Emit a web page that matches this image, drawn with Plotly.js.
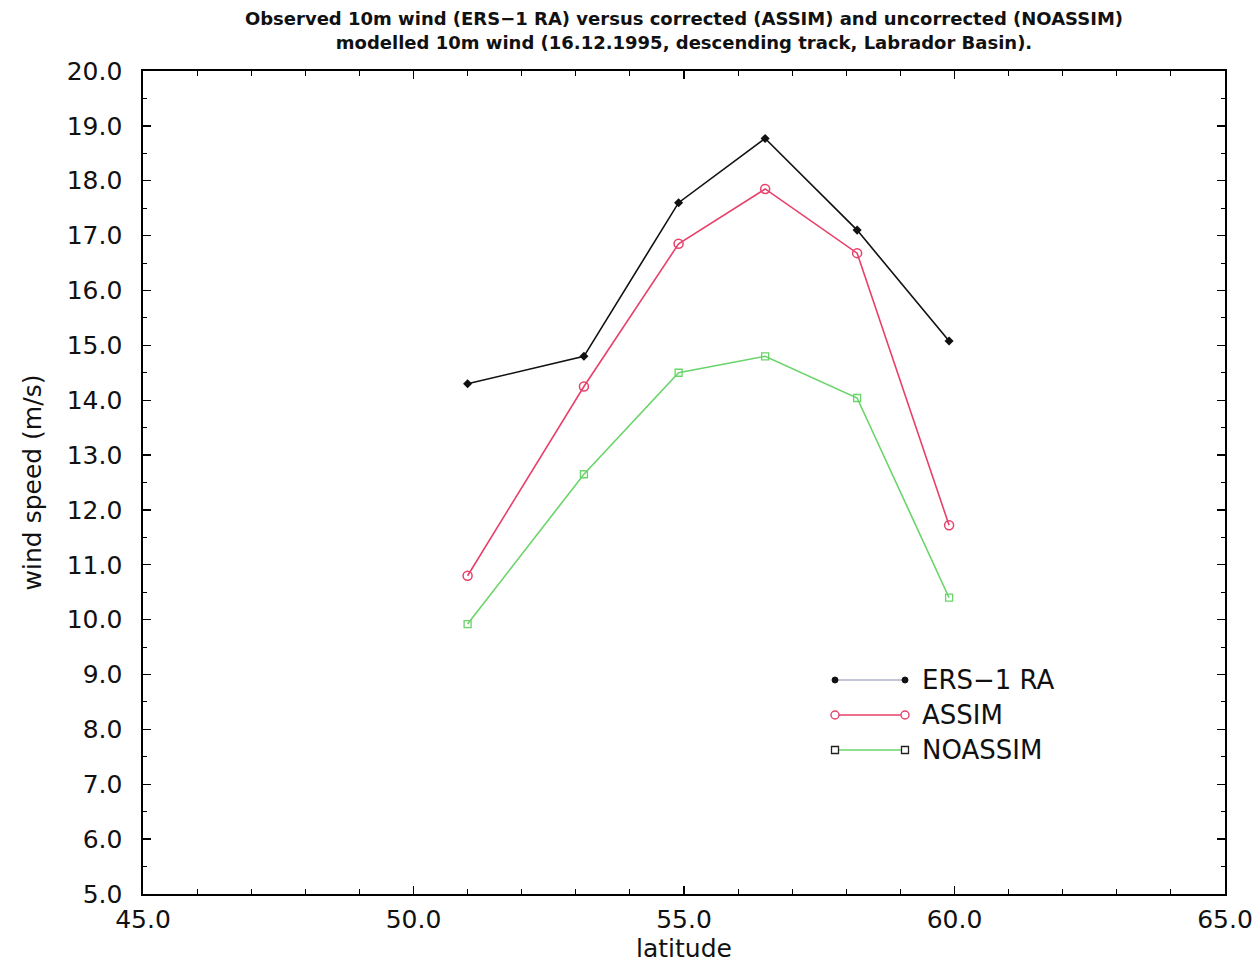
<!DOCTYPE html>
<html><head><meta charset="utf-8">
<script src="https://cdn.plot.ly/plotly-3.0.1.min.js"></script>
<style>html,body{margin:0;padding:0;background:#fff;}</style>
</head><body>
<div id="chart" style="width:1259px;height:971px;"></div>
<script>
// ---- data ----
const latitude = [51.0, 53.15, 54.9, 56.5, 58.2, 59.9];
const ersRA   = [14.3, 14.8, 17.6, 18.77, 17.1, 15.08];
const assim   = [10.8, 14.25, 16.85, 17.85, 16.68, 11.72];
const noassim = [9.92, 12.65, 14.5, 14.8, 14.04, 10.4];
const seriesNames = ['ERS\u22121 RA', 'ASSIM', 'NOASSIM'];
const titleLines = ['Observed 10m wind (ERS\u22121 RA) versus corrected (ASSIM) and uncorrected (NOASSIM)',
                    'modelled 10m wind (16.12.1995, descending track, Labrador Basin).'];
const xTitle = 'latitude';
const yTitle = 'wind speed (m/s)';

// ---- styling ----
const FONT = 'DejaVu Sans, Liberation Sans, Arial, sans-serif';
const colors = {ers: '#111111', assim: '#e8406a', noassim: '#6ad46a'};
const W = 1259, H = 971;
const M = {l: 143, r: 34, t: 71, b: 77};
const PW = W - M.l - M.r, PH = H - M.t - M.b;
const px = x => (x - M.l) / PW;
const py = y => (H - M.b - y) / PH;

const traces = [
  {x: latitude, y: ersRA, name: seriesNames[0], mode: 'lines+markers', type: 'scatter',
   line: {color: colors.ers, width: 1.6},
   marker: {symbol: 'diamond', size: 7, color: colors.ers}},
  {x: latitude, y: assim, name: seriesNames[1], mode: 'lines+markers', type: 'scatter',
   line: {color: colors.assim, width: 1.6},
   marker: {symbol: 'circle-open', size: 9, color: colors.assim, line: {width: 1.5, color: colors.assim}}},
  {x: latitude, y: noassim, name: seriesNames[2], mode: 'lines+markers', type: 'scatter',
   line: {color: colors.noassim, width: 1.6},
   marker: {symbol: 'square-open', size: 7, color: colors.noassim, line: {width: 1.3, color: colors.noassim}}}
];

// custom legend (line with markers at both ends, as in the reference)
const legRows = [680, 715, 750];
const legX0 = 835, legX1 = 905, legText = 920;
const legLine = ['#aeb2c8', colors.assim, colors.noassim];
const shapes = [], annotations = [];
legRows.forEach((ry, i) => {
  shapes.push({type: 'line', xref: 'paper', yref: 'paper', x0: px(legX0), x1: px(legX1), y0: py(ry), y1: py(ry),
               line: {color: legLine[i], width: 1.6}});
  [legX0, legX1].forEach(ex => {
    const base = {xref: 'paper', yref: 'paper', xsizemode: 'pixel', ysizemode: 'pixel',
                  xanchor: px(ex), yanchor: py(ry)};
    if (i === 0) shapes.push(Object.assign({type: 'circle', x0: -3, x1: 3, y0: -3, y1: 3,
                  fillcolor: '#111', line: {color: '#111', width: 1}}, base));
    if (i === 1) shapes.push(Object.assign({type: 'circle', x0: -4, x1: 4, y0: -4, y1: 4,
                  fillcolor: '#fff', line: {color: colors.assim, width: 1.4}}, base));
    if (i === 2) shapes.push(Object.assign({type: 'rect', x0: -3.5, x1: 3.5, y0: -3.5, y1: 3.5,
                  fillcolor: '#fff', line: {color: '#222', width: 1.3}}, base));
  });
  annotations.push({xref: 'paper', yref: 'paper', x: px(legText), y: py(ry), xanchor: 'left', yanchor: 'middle',
                    text: seriesNames[i], showarrow: false, font: {family: FONT, size: 26, color: '#111'}});
});

const layout = {
  width: W, height: H,
  margin: M,
  paper_bgcolor: '#fff', plot_bgcolor: '#fff',
  showlegend: false,
  font: {family: FONT, color: '#111'},
  title: {text: titleLines.join('<br>'), x: 0.5, xref: 'paper', xanchor: 'center',
          y: 0.974, yref: 'container', yanchor: 'top',
          font: {family: FONT, size: 18, weight: 'bold', color: '#111'}},
  xaxis: {range: [45, 65], dtick: 5, tick0: 45, tickformat: '.1f',
          ticks: 'inside', ticklen: 8, tickwidth: 1.3, tickcolor: '#000',
          minor: {dtick: 1, ticks: 'inside', ticklen: 5, tickwidth: 1, tickcolor: '#000'},
          showline: true, linecolor: '#000', linewidth: 1.6, mirror: 'allticks',
          showgrid: false, zeroline: false,
          tickfont: {family: FONT, size: 25, color: '#111'}, ticklabelstandoff: 2,
          title: {text: xTitle, font: {family: FONT, size: 25, color: '#111'}, standoff: 4}},
  yaxis: {range: [5, 20], dtick: 1, tick0: 5, tickformat: '.1f',
          ticks: 'inside', ticklen: 8, tickwidth: 1.3, tickcolor: '#000',
          minor: {dtick: 0.5, ticks: 'inside', ticklen: 4, tickwidth: 1, tickcolor: '#000'},
          showline: true, linecolor: '#000', linewidth: 1.6, mirror: 'allticks',
          showgrid: false, zeroline: false,
          tickfont: {family: FONT, size: 25, color: '#111'}, ticklabelstandoff: 14,
          title: {text: yTitle, font: {family: FONT, size: 25, color: '#111'}, standoff: 18}},
  shapes: shapes,
  annotations: annotations
};

Plotly.newPlot('chart', traces, layout, {staticPlot: true, displayModeBar: false});
</script>
</body></html>
